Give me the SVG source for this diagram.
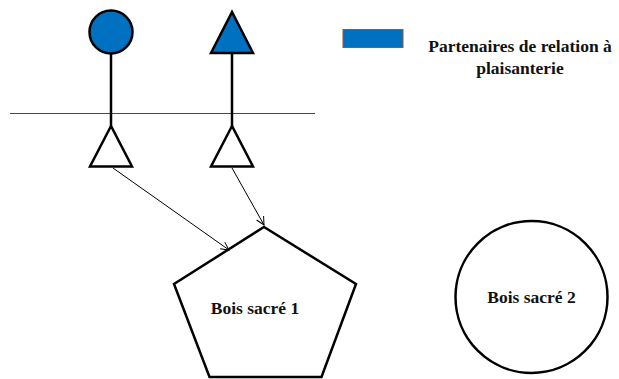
<svg xmlns="http://www.w3.org/2000/svg" width="619" height="379" viewBox="0 0 619 379">
<style>
.s{stroke:#000;stroke-width:2.5;fill:#fff}
.b{fill:#0070C0}
.t{font-family:'Liberation Serif','DejaVu Serif',serif;font-weight:bold;font-size:17.5px;fill:#111;text-anchor:middle}
.c{stroke:#000;stroke-width:1;fill:none}
</style>
<defs>
<marker id="a" markerWidth="10" markerHeight="10" refX="9" refY="5" orient="auto" markerUnits="userSpaceOnUse">
<path d="M1,1 L9,5 L1,9" fill="none" stroke="#000" stroke-width="1"/>
</marker>
</defs>
<rect width="619" height="379" fill="#fff"/>
<line x1="10" y1="113.5" x2="315" y2="113.5" stroke="#7a3a22" stroke-width="1"/>
<g id="person1">
<line x1="111" y1="53" x2="111" y2="126" stroke="#000" stroke-width="2.5"/>
<circle class="s b" cx="111" cy="32" r="21.5"/>
</g>
<g id="person2">
<line x1="232" y1="53" x2="232" y2="126" stroke="#000" stroke-width="2.5"/>
<polygon class="s b" points="232,12 211,53 253,53"/>
</g>
<g id="child1">
<polygon class="s" points="111,126 90,166.5 132,166.5"/>
</g>
<g id="child2">
<polygon class="s" points="232,126 211,166.5 253,166.5"/>
</g>
<g id="legend">
<rect x="343" y="29.5" width="60" height="18" fill="#0070C0" stroke="#a0522d" stroke-width="1"/>
<text class="t" x="520" y="52">Partenaires de relation à</text>
<text class="t" x="520" y="74">plaisanterie</text>
</g>
<g id="bois1">
<polygon class="s" points="264,227 356,284 321.5,377 209.5,377 174,284"/>
<text class="t" x="255" y="314">Bois sacré 1</text>
</g>
<g id="bois2">
<circle class="s" cx="531.5" cy="297" r="76"/>
<text class="t" x="531.5" y="303">Bois sacré 2</text>
</g>
<g id="connectors">
<line class="c" x1="113" y1="168" x2="229" y2="250" marker-end="url(#a)"/>
<line class="c" x1="232" y1="168" x2="264" y2="225" marker-end="url(#a)"/>
</g>
</svg>
